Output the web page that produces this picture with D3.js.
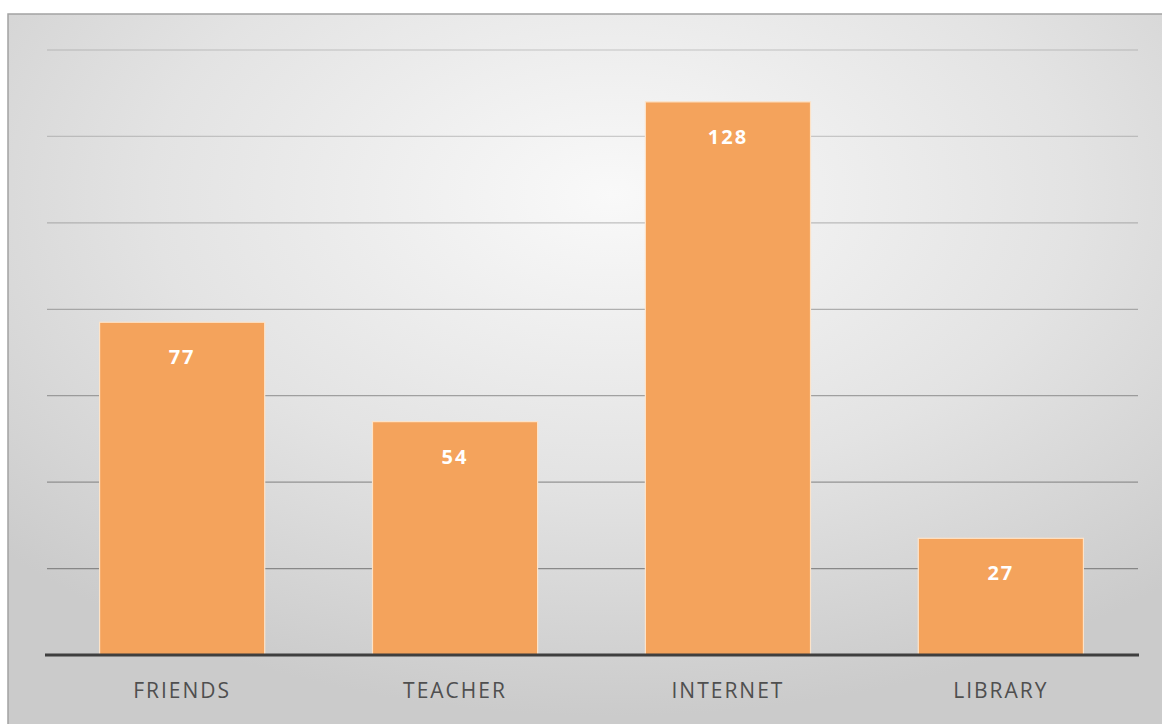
<!DOCTYPE html>
<html>
<head>
<meta charset="utf-8">
<script src="https://cdn.jsdelivr.net/npm/d3@7"></script>
<style>
  body { margin: 0; background: #fff; }
  svg { display: block; }
</style>
</head>
<body>
<script>
const categories = ["FRIENDS", "TEACHER", "INTERNET", "LIBRARY"];
const values = [77, 54, 128, 27];
const gridTicks = [20, 40, 60, 80, 100, 120, 140];

const W = 1162, H = 724;
const PLOT = { left: 45, right: 1138, top: 50, bottom: 655 };

const svg = d3.select("body").append("svg")
  .attr("width", W)
  .attr("height", H);

const defs = svg.append("defs");
const bg = defs.append("radialGradient")
  .attr("id", "bg")
  .attr("cx", "52%").attr("cy", "25%")
  .attr("r", "72%");
bg.append("stop").attr("offset", "0%").attr("stop-color", "#f9f9f9");
bg.append("stop").attr("offset", "55%").attr("stop-color", "#e3e3e3");
bg.append("stop").attr("offset", "100%").attr("stop-color", "#cbcbcb");

// chart frame
svg.append("rect")
  .attr("x", 8).attr("y", 14)
  .attr("width", W).attr("height", H)
  .attr("fill", "url(#bg)")
  .attr("stroke", "#a3a3a3")
  .attr("stroke-width", 1.5);

const x = d3.scaleBand()
  .domain(categories)
  .range([PLOT.left, PLOT.right])
  .paddingInner(0.395)
  .paddingOuter(0.2);

const y = d3.scaleLinear()
  .domain([0, 140])
  .range([PLOT.bottom, PLOT.top]);

const gridAlpha = d3.scaleLinear().domain([20, 140]).range([0.85, 0.25]);

svg.append("g")
  .selectAll("line")
  .data(gridTicks)
  .join("line")
  .attr("x1", PLOT.left + 2)
  .attr("x2", PLOT.right)
  .attr("y1", d => y(d))
  .attr("y2", d => y(d))
  .attr("stroke", "#7a7a7a")
  .attr("stroke-opacity", d => gridAlpha(d))
  .attr("stroke-width", 1.3);

svg.append("g")
  .selectAll("rect")
  .data(values)
  .join("rect")
  .attr("x", (_, i) => x(categories[i]))
  .attr("y", d => y(d))
  .attr("width", x.bandwidth())
  .attr("height", d => y(0) - y(d))
  .attr("fill", "#f4a35c")
  .attr("stroke", "#fde3c8")
  .attr("stroke-width", 1.2);

svg.append("g")
  .selectAll("text")
  .data(values)
  .join("text")
  .attr("x", (_, i) => x(categories[i]) + x.bandwidth() / 2)
  .attr("y", d => y(d) + 42)
  .attr("text-anchor", "middle")
  .attr("fill", "#ffffff")
  .attr("font-family", "'Open Sans', sans-serif")
  .attr("font-weight", "bold")
  .attr("font-size", 20)
  .attr("letter-spacing", 2)
  .text(d => d);

// baseline
svg.append("line")
  .attr("x1", PLOT.left).attr("x2", PLOT.right + 1)
  .attr("y1", y(0)).attr("y2", y(0))
  .attr("stroke", "#3f3f3f")
  .attr("stroke-width", 3);

svg.append("g")
  .selectAll("text")
  .data(categories)
  .join("text")
  .attr("x", d => x(d) + x.bandwidth() / 2)
  .attr("y", 698)
  .attr("text-anchor", "middle")
  .attr("fill", "#4f4f4f")
  .attr("font-family", "'Open Sans', sans-serif")
  .attr("font-size", 21)
  .attr("letter-spacing", 2)
  .text(d => d);
</script>
</body>
</html>
